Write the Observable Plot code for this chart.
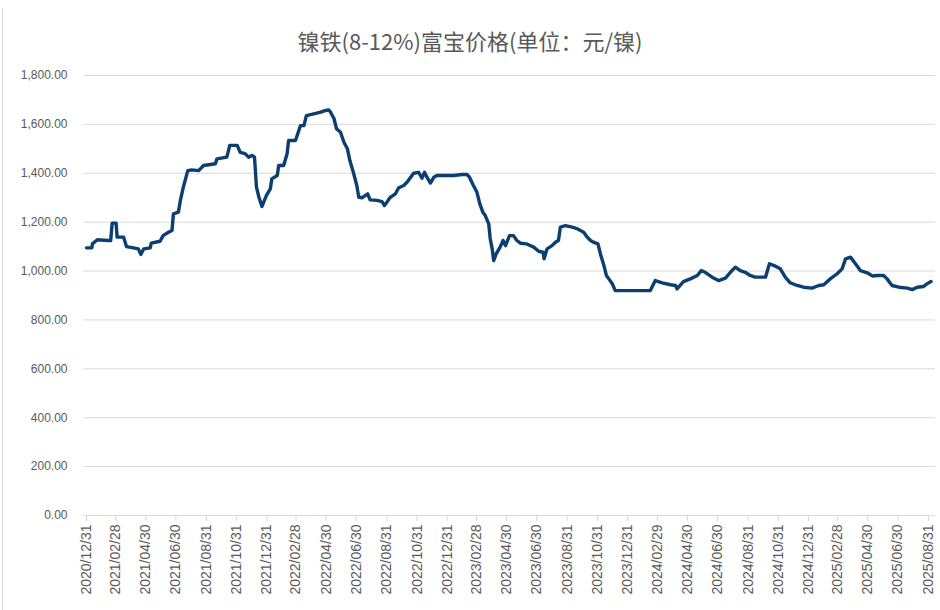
<!DOCTYPE html>
<html><head><meta charset="utf-8">
<script src="https://cdn.jsdelivr.net/npm/d3@7"></script>
<script src="https://cdn.jsdelivr.net/npm/@observablehq/plot@0.6"></script>
<style>
body{margin:0;background:#fff;}
#wrap{position:relative;width:940px;height:610px;overflow:hidden;}
#frame{position:absolute;left:2px;top:8px;width:1px;height:602px;background:#d9d9d9;}
#title{position:absolute;left:0;top:23px;width:940px;text-align:center;font-family:"Noto Sans CJK SC",sans-serif;font-size:22px;line-height:34px;color:#595959;}
#chart{position:absolute;left:0;top:0;}
</style></head><body>
<div id="wrap"><div id="frame"></div><div id="chart"></div><div id="title">镍铁(8-12%)富宝价格(单位：元/镍)</div></div>
<script>
const dates = [
"2020-12-31","2021-01-11","2021-01-12","2021-01-22","2021-02-13","2021-02-18","2021-02-21","2021-03-01","2021-03-03","2021-03-16",
"2021-03-22","2021-04-05","2021-04-15","2021-04-20","2021-04-26","2021-05-09","2021-05-11","2021-05-29","2021-06-04","2021-06-15",
"2021-06-22","2021-06-25","2021-07-05","2021-07-09","2021-07-15","2021-07-24","2021-08-01","2021-08-15","2021-08-25","2021-09-18",
"2021-09-21","2021-10-11","2021-10-17","2021-11-01","2021-11-07","2021-11-17","2021-11-24","2021-12-01","2021-12-06","2021-12-10",
"2021-12-15","2021-12-21","2021-12-26","2021-12-30","2022-01-07","2022-01-10","2022-01-21","2022-01-24","2022-02-03","2022-02-10",
"2022-02-13","2022-02-27","2022-03-09","2022-03-16","2022-03-21","2022-04-05","2022-04-19","2022-04-29","2022-05-05","2022-05-09",
"2022-05-16","2022-05-21","2022-05-29","2022-06-05","2022-06-12","2022-06-17","2022-06-24","2022-07-01","2022-07-05","2022-07-12",
"2022-07-23","2022-07-28","2022-08-11","2022-08-21","2022-08-26","2022-08-31","2022-09-06","2022-09-17","2022-09-24","2022-10-04",
"2022-10-11","2022-10-24","2022-11-03","2022-11-10","2022-11-15","2022-11-20","2022-11-27","2022-12-04","2022-12-10","2022-12-14",
"2023-01-13","2023-01-30","2023-02-09","2023-02-14","2023-02-22","2023-03-01","2023-03-07","2023-03-13","2023-03-18","2023-03-25",
"2023-03-28","2023-04-01","2023-04-04","2023-04-09","2023-04-17","2023-04-23","2023-04-28","2023-05-06","2023-05-14","2023-05-21",
"2023-05-28","2023-06-10","2023-06-24","2023-07-04","2023-07-13","2023-07-15","2023-07-21","2023-07-31","2023-08-07","2023-08-13",
"2023-08-17","2023-08-27","2023-09-10","2023-09-20","2023-10-03","2023-10-10","2023-10-17","2023-10-23","2023-11-01","2023-11-06",
"2023-11-13","2023-11-18","2023-11-23","2023-11-30","2023-12-06","2024-02-15","2024-02-25","2024-03-10","2024-03-27","2024-04-06",
"2024-04-09","2024-04-22","2024-05-06","2024-05-20","2024-05-28","2024-06-05","2024-06-19","2024-07-02","2024-07-16","2024-07-26",
"2024-08-05","2024-08-15","2024-08-25","2024-09-04","2024-09-14","2024-10-01","2024-10-05","2024-10-13","2024-10-25","2024-11-04",
"2024-11-14","2024-11-24","2024-12-08","2024-12-21","2025-01-07","2025-01-21","2025-01-31","2025-02-13","2025-02-27","2025-03-09",
"2025-03-16","2025-03-26","2025-04-05","2025-04-15","2025-04-29","2025-05-09","2025-05-19","2025-06-01","2025-06-08","2025-06-18",
"2025-07-02","2025-07-19","2025-07-29","2025-08-08","2025-08-21","2025-08-28","2025-09-05"
];
const prices = [
1095,1095,1111,1128,1125,1125,1196,1196,1139,1139,
1100,1095,1091,1068,1091,1095,1114,1122,1145,1159,
1166,1234,1241,1289,1343,1411,1414,1411,1432,1439,
1459,1466,1514,1514,1486,1480,1466,1473,1466,1343,
1302,1264,1289,1309,1336,1377,1391,1432,1432,1480,
1534,1534,1595,1595,1636,1643,1650,1657,1659,1650,
1623,1582,1568,1527,1500,1452,1404,1350,1302,1300,
1316,1291,1289,1284,1268,1282,1300,1316,1341,1350,
1364,1400,1404,1380,1404,1384,1360,1384,1391,1391,
1391,1395,1395,1384,1350,1323,1275,1241,1227,1193,
1132,1091,1043,1070,1098,1125,1104,1145,1145,1125,
1114,1111,1098,1081,1077,1050,1091,1104,1118,1125,
1180,1186,1180,1173,1159,1139,1125,1118,1111,1070,
1023,982,968,948,920,920,961,952,944,941,
927,957,968,982,1002,995,975,961,971,995,
1016,1002,995,982,975,975,975,1030,1020,1009,
975,952,941,934,930,941,944,968,989,1009,
1050,1057,1030,1002,993,980,982,982,968,941,
934,930,924,934,937,948,957
];
const xTickLabels = ["2020/12/31","2021/02/28","2021/04/30","2021/06/30","2021/08/31","2021/10/31","2021/12/31",
"2022/02/28","2022/04/30","2022/06/30","2022/08/31","2022/10/31","2022/12/31",
"2023/02/28","2023/04/30","2023/06/30","2023/08/31","2023/10/31","2023/12/31",
"2024/02/29","2024/04/30","2024/06/30","2024/08/31","2024/10/31","2024/12/31",
"2025/02/28","2025/04/30","2025/06/30","2025/08/31"];
const yTicks = [0,200,400,600,800,1000,1200,1400,1600,1800];

const parse = d3.utcParse("%Y-%m-%d");
const parseTick = d3.utcParse("%Y/%m/%d");
const data = dates.map((d, i) => ({date: parse(d), price: prices[i]}));
const xt = xTickLabels.map(parseTick);
const fmt = d3.format(",.2f");

const chart = Plot.plot({
  width: 940, height: 610,
  marginTop: 75, marginBottom: 95, marginLeft: 83, marginRight: 5,
  style: {background: "transparent", fontFamily: "'Liberation Sans', Arial, sans-serif", color: "#595959"},
  x: {type: "utc", domain: [parse("2020-12-25"), parse("2025-09-14")]},
  y: {domain: [0, 1800]},
  marks: [
    Plot.gridY(yTicks.filter(d => d > 0), {stroke: "#d9d9d9", strokeOpacity: 1, strokeWidth: 1}),
    Plot.ruleY([0], {stroke: "#d9d9d9", strokeWidth: 1}),
    Plot.axisY(yTicks, {tickSize: 0, tickPadding: 16, tickFormat: fmt, fontSize: 12, fill: "#595959", label: null}),
    Plot.axisX(xt, {tickSize: 6, stroke: "#d9d9d9", strokeOpacity: 1, tickFormat: d3.utcFormat("%Y/%m/%d"), tickRotate: -90, fontSize: 14, fill: "#595959", tickPadding: 3, label: null}),
    Plot.line(data, {x: "date", y: "price", stroke: "#0c3f70", strokeWidth: 3.4, strokeLinejoin: "round", strokeLinecap: "round"})
  ]
});
document.getElementById("chart").appendChild(chart);
</script>
</body></html>
